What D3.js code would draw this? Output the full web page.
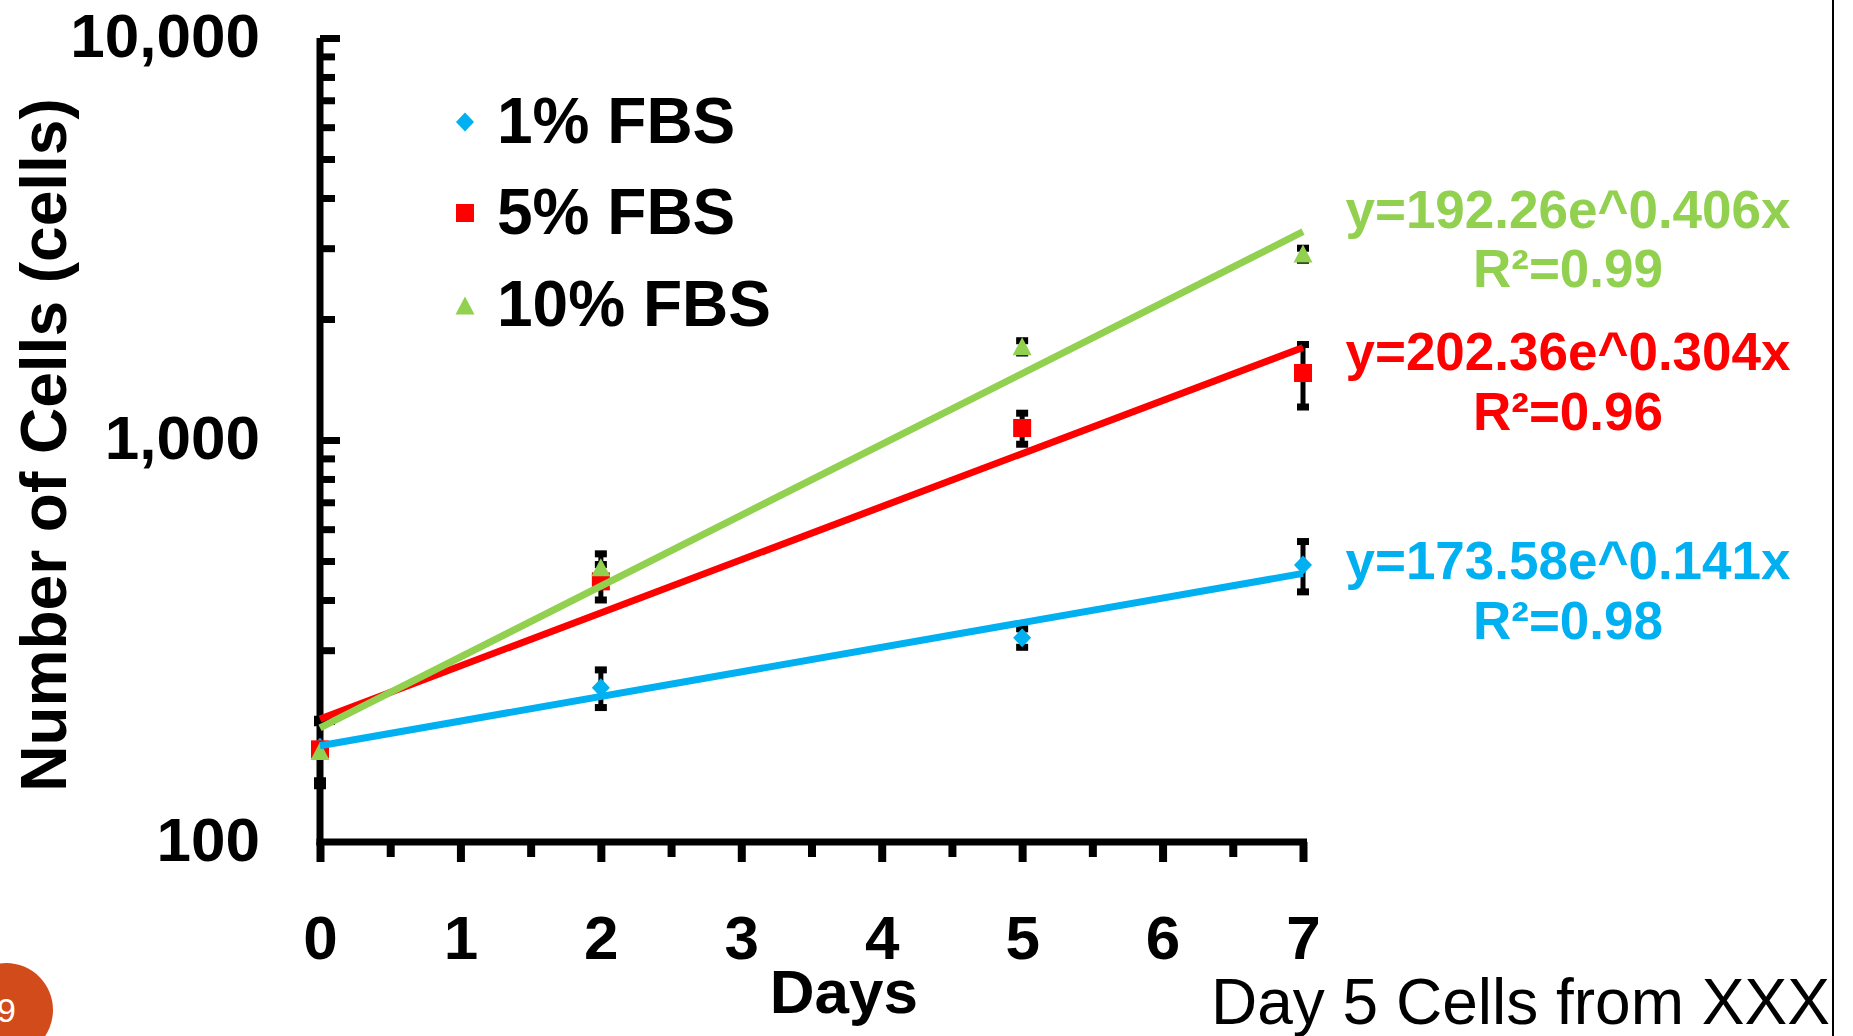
<!DOCTYPE html>
<html>
<head>
<meta charset="utf-8">
<script src="https://cdn.jsdelivr.net/npm/d3@7"></script>
<style>
  html, body { margin: 0; padding: 0; background: #fff; }
  svg { display: block; }
  text { font-family: "Liberation Sans", Arial, Helvetica, sans-serif; }
</style>
</head>
<body>
<svg id="chart" width="1853" height="1036"></svg>
<script>
// ---- data ----
const days = [0, 2, 5, 7];
const seriesNames = ["1% FBS", "5% FBS", "10% FBS"];
const seriesColors = ["#00B0F0", "#FF0000", "#92D050"];
const seriesShapes = ["diamond", "square", "triangle"];
const blueValues = [172, 242, 322, 489];
const redValues = [170, 445, 1071, 1468];
const greenValues = [168, 481, 1706, 2900];
const blueErrors = [30, 26, 17, 70];
const redErrors = [30, 45, 95, 260];
const greenErrors = [30, 40, 60, 100];
const fitA = [173.58, 202.36, 192.26];
const fitB = [0.141, 0.304, 0.406];
const fitR2 = ["0.98", "0.96", "0.99"];
const yMajorTicks = [100, 1000, 10000];
const yMinorTicks = [200, 300, 400, 500, 600, 700, 800, 900, 2000, 3000, 4000, 5000, 6000, 7000, 8000, 9000];
const xMajorTicks = [0, 1, 2, 3, 4, 5, 6, 7];
const xMinorTicks = [0.5, 1.5, 2.5, 3.5, 4.5, 5.5, 6.5];
const xTitle = "Days";
const yTitle = "Number of Cells (cells)";
const footnote = "Day 5 Cells from XXX";

const seriesValues = [blueValues, redValues, greenValues];
const seriesErrors = [blueErrors, redErrors, greenErrors];

// ---- layout ----
const svg = d3.select("#chart");
const x = d3.scaleLinear().domain([0, 7]).range([320, 1303]);
const y = d3.scaleLog().domain([100, 10000]).range([842, 38]);
const AX = "#000";

// y axis (major) with labels on the left, ticks pointing inward
const yAxisMajor = d3.axisLeft(y).tickValues(yMajorTicks).tickSize(-20).tickSizeOuter(0)
  .tickPadding(60).tickFormat(d3.format(","));
const gy = svg.append("g").attr("transform", `translate(${x(0)},0)`).call(yAxisMajor);
gy.select(".domain").remove();
gy.selectAll(".tick line").attr("stroke", AX).attr("stroke-width", 7);
gy.selectAll(".tick text").attr("fill", "#000").attr("font-size", 62).attr("font-weight", "bold")
  .attr("font-family", "Liberation Sans, Arial, sans-serif").attr("dy", "0.3em");
gy.selectAll(".tick").filter(d => d === 100).select("line").remove();

const yAxisMinor = d3.axisLeft(y).tickValues(yMinorTicks).tickSize(-15).tickSizeOuter(0).tickFormat("");
const gym = svg.append("g").attr("transform", `translate(${x(0)},0)`).call(yAxisMinor);
gym.select(".domain").remove();
gym.selectAll(".tick line").attr("stroke", AX).attr("stroke-width", 7);

// x axis
const xAxisMajor = d3.axisBottom(x).tickValues(xMajorTicks).tickSize(20).tickSizeOuter(0)
  .tickPadding(53).tickFormat(d3.format("d"));
const gx = svg.append("g").attr("transform", `translate(0,${y(100)})`).call(xAxisMajor);
gx.select(".domain").remove();
gx.selectAll(".tick line").attr("stroke", AX).attr("stroke-width", 8);
gx.selectAll(".tick text").attr("fill", "#000").attr("font-size", 62).attr("font-weight", "bold")
  .attr("font-family", "Liberation Sans, Arial, sans-serif");

const xAxisMinor = d3.axisBottom(x).tickValues(xMinorTicks).tickSize(15).tickSizeOuter(0).tickFormat("");
const gxm = svg.append("g").attr("transform", `translate(0,${y(100)})`).call(xAxisMinor);
gxm.select(".domain").remove();
gxm.selectAll(".tick line").attr("stroke", AX).attr("stroke-width", 8);

// axis lines
svg.append("line").attr("x1", x(0)).attr("x2", x(0)).attr("y1", y(10000)).attr("y2", y(100) + 3.5)
  .attr("stroke", AX).attr("stroke-width", 7);
svg.append("line").attr("x1", x(0) - 3.5).attr("x2", x(7) + 4).attr("y1", y(100)).attr("y2", y(100))
  .attr("stroke", AX).attr("stroke-width", 7);

// axis titles
svg.append("text").attr("x", x(3.73)).attr("y", 1013).attr("text-anchor", "middle")
  .attr("font-size", 62).attr("font-weight", "bold").text(xTitle);
svg.append("text").attr("transform", `translate(66,${445}) rotate(-90)`).attr("text-anchor", "middle")
  .attr("font-size", 64).attr("font-weight", "bold").text(yTitle);

// error bars
const plot = svg.append("g");
seriesValues.forEach((vals, si) => {
  const errs = seriesErrors[si];
  days.forEach((d, i) => {
    const cx = x(d);
    const yt = y(vals[i] + errs[i]);
    const yb = y(vals[i] - errs[i]);
    plot.append("line").attr("x1", cx).attr("x2", cx).attr("y1", yt).attr("y2", yb)
      .attr("stroke", "#000").attr("stroke-width", 5);
    [yt, yb].forEach(cy => {
      plot.append("line").attr("x1", cx - 6).attr("x2", cx + 6).attr("y1", cy).attr("y2", cy)
        .attr("stroke", "#000").attr("stroke-width", 7);
    });
  });
});

function markerPath(shape) {
  if (shape === "diamond") return "M0,-9.5L9,0L0,9.5L-9,0Z";
  if (shape === "square") return "M-9,-9L9,-9L9,9L-9,9Z";
  return "M0,-9.5L9.5,8.5L-9.5,8.5Z";
}

// markers
seriesValues.forEach((vals, si) => {
  plot.selectAll(null).data(days.map((d, i) => [d, vals[i]])).enter().append("path")
    .attr("d", markerPath(seriesShapes[si]))
    .attr("transform", p => `translate(${x(p[0])},${y(p[1])})`)
    .attr("fill", seriesColors[si]);
});

// exponential trend lines
const line = d3.line().x(p => x(p[0])).y(p => y(p[1]));
fitA.forEach((a, si) => {
  const pts = [0, 7].map(t => [t, a * Math.exp(fitB[si] * t)]);
  plot.append("path").attr("d", line(pts)).attr("fill", "none")
    .attr("stroke", seriesColors[si]).attr("stroke-width", 7);
});

// legend
const legendY = [122, 213, 306];
const legendTextY = [143, 234, 326];
seriesNames.forEach((name, si) => {
  svg.append("path").attr("d", markerPath(seriesShapes[si]))
    .attr("transform", `translate(465,${legendY[si]})`).attr("fill", seriesColors[si]);
  svg.append("text").attr("x", 497).attr("y", legendTextY[si]).attr("font-size", 64)
    .attr("font-weight", "bold").attr("fill", "#000").text(name);
});

// equations
const eqBase = [[579, 639], [370, 430], [228, 287]];
fitA.forEach((a, si) => {
  svg.append("text").attr("x", 1568).attr("y", eqBase[si][0]).attr("text-anchor", "middle")
    .attr("font-size", 53).attr("font-weight", "bold").attr("fill", seriesColors[si])
    .text(`y=${a.toFixed(2)}e^${fitB[si].toFixed(3)}x`);
  svg.append("text").attr("x", 1568).attr("y", eqBase[si][1]).attr("text-anchor", "middle")
    .attr("font-size", 53).attr("font-weight", "bold").attr("fill", seriesColors[si])
    .text(`R²=${fitR2[si]}`);
});

// slide decorations
svg.append("line").attr("x1", 1833).attr("x2", 1833).attr("y1", 0).attr("y2", 1036)
  .attr("stroke", "#000").attr("stroke-width", 2);
svg.append("text").attr("x", 1211).attr("y", 1024).attr("font-size", 64).attr("fill", "#000").text(footnote);
svg.append("circle").attr("cx", 6).attr("cy", 1010).attr("r", 47).attr("fill", "#D24B1A");
svg.append("text").attr("x", -3).attr("y", 1022).attr("font-size", 34).attr("fill", "#fff").text("9");
</script>
</body>
</html>
